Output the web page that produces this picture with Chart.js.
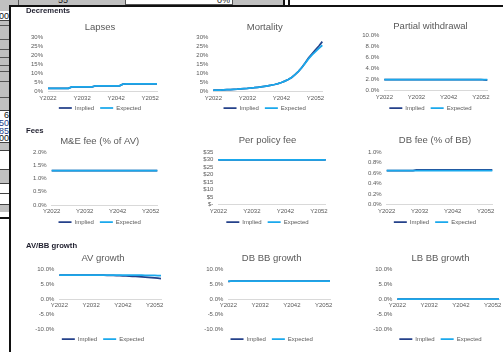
<!DOCTYPE html>
<html>
<head>
<meta charset="utf-8">
<script src="https://cdn.jsdelivr.net/npm/chart.js@4/dist/chart.umd.min.js"></script>
<style>
  html, body { margin: 0; padding: 0; width: 503px; height: 352px; overflow: hidden; background: #fff;
    font-family: "Liberation Sans", Arial, sans-serif; }
  .a { position: absolute; box-sizing: border-box; }
  .cell { position: absolute; font-size: 9px; line-height: 8px; text-align: right; white-space: nowrap; }
  .section { position: absolute; left: 26px; font-weight: bold; font-size: 7.7px; color: #1f1f2e; line-height: 9px; z-index: 5; }
  canvas { position: absolute; z-index: 4; }
</style>
</head>
<body>
<!-- worksheet behind the dashboard -->
<div class="a" style="left:0;top:0;width:283px;height:6px;background:#c0c0c0"></div>
<div class="a" style="left:18px;top:0;width:1px;height:6px;background:#555"></div>
<div class="a" style="left:125px;top:0;width:108px;height:5px;background:#fff;border:1px solid #555;border-top:none"></div>
<div class="cell" style="left:50px;top:-4px;width:18px;color:#222">55</div>
<div class="cell" style="left:200px;top:-4px;width:30px;color:#222">0%</div>
<div class="a" style="left:283px;top:0;width:2px;height:6px;background:#111"></div>
<div class="a" style="left:288px;top:0;width:2px;height:6px;background:#111"></div>

<div class="a" style="left:0;top:0;width:10px;height:150px;background:#c0c0c0"></div>
<div class="a" style="left:0;top:11px;width:10px;height:10px;background:#fff;border-bottom:1px solid #444"></div>
<div class="cell" style="left:-10px;top:12px;width:19px;color:#111">00</div>
<div class="a" style="left:0;top:25px;width:10px;height:1px;background:#555"></div>
<div class="a" style="left:0;top:39px;width:10px;height:1px;background:#555"></div>
<div class="a" style="left:0;top:49px;width:10px;height:1px;background:#555"></div>
<div class="a" style="left:0;top:57px;width:10px;height:1px;background:#555"></div>
<div class="a" style="left:0;top:65px;width:10px;height:1px;background:#555"></div>
<div class="a" style="left:0;top:71px;width:10px;height:1px;background:#555"></div>
<div class="a" style="left:0;top:81px;width:10px;height:1px;background:#555"></div>
<div class="a" style="left:0;top:97px;width:10px;height:1px;background:#555"></div>
<div class="a" style="left:0;top:110px;width:10px;height:33px;background:#fff;border-top:1px solid #444;border-bottom:1px solid #444"></div>
<div class="cell" style="left:-10px;top:111px;width:19px;color:#111">6</div>
<div class="cell" style="left:-10px;top:119px;width:19px;color:#1f3d8a">50</div>
<div class="cell" style="left:-10px;top:127px;width:19px;color:#1f3d8a">85</div>
<div class="cell" style="left:-10px;top:134px;width:19px;color:#111">00</div>
<div class="a" style="left:0;top:150px;width:10px;height:20px;background:#fff;border-top:1px solid #444;border-bottom:1px solid #444"></div>
<div class="a" style="left:0;top:170px;width:10px;height:13px;background:#c0c0c0"></div>
<div class="a" style="left:0;top:183px;width:10px;height:11px;background:#fff;border-top:1px solid #444;border-bottom:1px solid #444"></div>
<div class="a" style="left:0;top:194px;width:10px;height:11px;background:#fff;border-bottom:1px solid #444"></div>
<div class="a" style="left:0;top:205px;width:10px;height:7px;background:#c0c0c0"></div>
<div class="a" style="left:0;top:212px;width:10px;height:6px;background:#fff"></div>
<div class="a" style="left:0;top:217px;width:10px;height:2px;background:#111"></div>

<!-- dashboard frame -->
<div class="a" style="left:11px;top:7px;width:492px;height:345px;background:#fff"></div>
<div class="a" style="left:9px;top:5px;width:494px;height:2px;background:#111"></div>
<div class="a" style="left:9px;top:5px;width:2px;height:347px;background:#111"></div>

<div class="section" style="top:6px">Decrements</div>
<div class="section" style="top:126px">Fees</div>
<div class="section" style="top:241px">AV/BB growth</div>

<script>
// ---- data ----
const years = ['Y2022','Y2023','Y2024','Y2025','Y2026','Y2027','Y2028','Y2029','Y2030','Y2031',
  'Y2032','Y2033','Y2034','Y2035','Y2036','Y2037','Y2038','Y2039','Y2040','Y2041',
  'Y2042','Y2043','Y2044','Y2045','Y2046','Y2047','Y2048','Y2049','Y2050','Y2051',
  'Y2052','Y2053','Y2054'];

const lapsesImplied  = [1.9,1.9,1.9,1.9,1.9,1.9,1.9, 2.7,2.7,2.7,2.7,2.7,2.7,2.7,
  3.3,3.3,3.3,3.3,3.3,3.3,3.3,3.3, 4.2,4.4,4.4,4.4,4.4,4.4,4.4,4.4,4.4,4.4,4.4];
const lapsesExpected = [1.9,1.9,1.9,1.9,1.9,1.9,1.9, 2.7,2.7,2.7,2.7,2.7,2.7,2.7,
  3.3,3.3,3.3,3.3,3.3,3.3,3.3,3.3, 4.2,4.4,4.4,4.4,4.4,4.4,4.4,4.4,4.4,4.4,4.4];

const mortalityImplied  = [0.7,0.75,0.8,0.9,1.0,1.1,1.2,1.3,1.45,1.6,1.75,1.95,2.1,2.35,
  2.6,2.9,3.2,3.5,3.9,4.4,5.0,5.8,6.7,7.8,9.4,11.2,13.4,16.0,18.8,21.0,23.2,25.4,27.8];
const mortalityExpected = [0.7,0.75,0.8,0.9,1.0,1.1,1.2,1.3,1.45,1.6,1.75,1.95,2.1,2.35,
  2.6,2.9,3.2,3.5,3.9,4.4,5.0,5.8,6.7,7.8,9.4,11.2,13.4,15.8,18.3,20.4,22.2,24.1,25.8];

const withdrawalImplied  = [2.0,2.0,2.0,2.0,2.0,2.0,2.0,2.0,2.0,2.0,2.0,2.0,2.0,2.0,2.0,2.0,
  2.0,2.0,2.0,2.0,2.0,2.0,2.0,2.0,2.0,2.0,2.0,2.0,2.0,2.0,2.0,1.95,1.9];
const withdrawalExpected = [2.0,2.0,2.0,2.0,2.0,2.0,2.0,2.0,2.0,2.0,2.0,2.0,2.0,2.0,2.0,2.0,
  2.0,2.0,2.0,2.0,2.0,2.0,2.0,2.0,2.0,2.0,2.0,2.0,2.0,2.0,2.0,2.0,2.0];

const meFeeImplied  = [1.3,1.3,1.3,1.3,1.3,1.3,1.3,1.3,1.3,1.3,1.3,1.3,1.3,1.3,1.3,1.3,
  1.3,1.3,1.3,1.3,1.3,1.3,1.3,1.3,1.3,1.3,1.3,1.3,1.3,1.3,1.3,1.3,1.3];
const meFeeExpected = [1.3,1.3,1.3,1.3,1.3,1.3,1.3,1.3,1.3,1.3,1.3,1.3,1.3,1.3,1.3,1.3,
  1.3,1.3,1.3,1.3,1.3,1.3,1.3,1.3,1.3,1.3,1.3,1.3,1.3,1.3,1.3,1.3,1.3];

const policyFeeImplied  = [30,30,30,30,30,30,30,30,30,30,30,30,30,30,30,30,30,30,30,30,30,30,
  30,30,30,30,30,30,30,30,30,30,30];
const policyFeeExpected = [30,30,30,30,30,30,30,30,30,30,30,30,30,30,30,30,30,30,30,30,30,30,
  30,30,30,30,30,30,30,30,30,30,30];

const dbFeeImplied  = [0.65,0.65,0.65,0.65,0.65,0.65,0.65,0.65,0.65,0.66,0.66,0.66,0.66,0.66,
  0.66,0.66,0.66,0.66,0.66,0.66,0.66,0.66,0.66,0.66,0.66,0.66,0.66,0.66,0.66,0.66,0.66,0.66,0.66];
const dbFeeExpected = [0.65,0.65,0.65,0.65,0.65,0.65,0.65,0.65,0.65,0.65,0.65,0.65,0.65,0.65,
  0.65,0.65,0.65,0.65,0.65,0.65,0.65,0.65,0.65,0.65,0.65,0.65,0.65,0.65,0.65,0.65,0.65,0.65,0.65];

const avGrowthImplied  = [8.0,8.0,8.0,8.0,8.0,8.0,8.0,8.0,8.0,8.0,8.0,8.0,
  7.98,7.95,7.92,7.9,7.87,7.84,7.8,7.76,7.72,7.67,7.62,7.56,7.5,7.43,7.36,7.28,7.2,7.11,7.02,6.92,6.82];
const avGrowthExpected = [8.0,8.0,8.0,8.0,8.0,8.0,8.0,8.0,8.0,8.0,8.0,8.0,8.0,8.0,8.0,8.0,
  8.0,8.0,8.0,8.0,8.0,8.0,8.0, 7.98,7.96,7.94,7.92,7.9,7.88,7.86,7.84,7.82,7.8];

const dbBBGrowthImplied  = [5.8,6.0,6.0,6.0,6.0,6.0,6.0,6.0,6.0,6.0,6.0,6.0,6.0,6.0,6.0,6.0,
  6.0,6.0,6.0,6.0,6.0,6.0,6.0,6.0,6.0,6.0,6.0,6.0,6.0,6.0,6.0,6.0,6.0];
const dbBBGrowthExpected = [6.0,6.0,6.0,6.0,6.0,6.0,6.0,6.0,6.0,6.0,6.0,6.0,6.0,6.0,6.0,6.0,
  6.0,6.0,6.0,6.0,6.0,6.0,6.0,6.0,6.0,6.0,6.0,6.0,6.0,6.0,6.0,6.0,6.0];

const lbBBGrowthImplied  = [0,0,0,0,0,0,0,0,0,0,0,0,0,0,0,0,0,0,0,0,0,0,0,0,0,0,0,0,0,0,0,0,0];
const lbBBGrowthExpected = [0,0,0,0,0,0,0,0,0,0,0,0,0,0,0,0,0,0,0,0,0,0,0,0,0,0,0,0,0,0,0,0,0];

const seriesNames = ['Implied', 'Expected'];

// ---- styling ----
const IMPLIED_COLOR = '#24418a';
const EXPECTED_COLOR = '#1aa8ec';
const TEXT_COLOR = '#595959';
const AXIS_COLOR = '#d9d9d9';
const FONT = '"Liberation Sans", Arial, sans-serif';
const TITLE_SIZE = 9.5, TICK_SIZE = 6, LEGEND_SIZE = 6;

Chart.defaults.font.family = FONT;
Chart.defaults.color = TEXT_COLOR;

const pct0 = v => v + '%';
const pct1 = v => v.toFixed(1) + '%';
const dollars = v => (v === 0 ? '$-' : '$' + v);

// panel geometry: title centre, plot rectangle, legend row and canvas top
const panels = [
  { title: 'Lapses', implied: lapsesImplied, expected: lapsesExpected, min: 0, max: 30, step: 5, fmt: pct0,
    box: { tx: 100, ty: 27, l: 48, r: 157, t: 37.7, b: 91.7, ly: 108.3, top: 14 } },
  { title: 'Mortality', implied: mortalityImplied, expected: mortalityExpected, min: 0, max: 30, step: 5, fmt: pct0,
    box: { tx: 264.7, ty: 27, l: 213.3, r: 322.3, t: 37.7, b: 91.5, ly: 108.3, top: 14 } },
  { title: 'Partial withdrawal', implied: withdrawalImplied, expected: withdrawalExpected, min: 0, max: 10, step: 2, fmt: pct1,
    box: { tx: 430.5, ty: 26.7, l: 384.3, r: 487.3, t: 35.5, b: 90.5, ly: 108.3, top: 14 } },
  { title: 'M&E fee (% of AV)', implied: meFeeImplied, expected: meFeeExpected, min: 0, max: 2, step: 0.5, fmt: pct1,
    box: { tx: 99.7, ty: 141.7, l: 51.7, r: 157.3, t: 152.3, b: 205, ly: 222.3, top: 128 } },
  { title: 'Per policy fee', implied: policyFeeImplied, expected: policyFeeExpected, min: 0, max: 35, step: 5, fmt: dollars,
    box: { tx: 267.5, ty: 140.7, l: 218.3, r: 325.7, t: 152.3, b: 204.5, ly: 222.3, top: 128 } },
  { title: 'DB fee (% of BB)', implied: dbFeeImplied, expected: dbFeeExpected, min: 0, max: 1, step: 0.2, fmt: pct1,
    box: { tx: 435, ty: 140.5, l: 386.7, r: 492.3, t: 152.3, b: 204.3, ly: 222.3, top: 128 } },
  { title: 'AV growth', implied: avGrowthImplied, expected: avGrowthExpected, min: -10, max: 10, step: 5, fmt: pct1,
    box: { tx: 103, ty: 258.3, l: 59.3, r: 161, t: 269, b: 329, ly: 339.3, top: 245 } },
  { title: 'DB BB growth', implied: dbBBGrowthImplied, expected: dbBBGrowthExpected, min: -10, max: 10, step: 5, fmt: pct1,
    box: { tx: 271.7, ty: 258.3, l: 228.3, r: 330, t: 269, b: 329, ly: 339.3, top: 245 } },
  { title: 'LB BB growth', implied: lbBBGrowthImplied, expected: lbBBGrowthExpected, min: -10, max: 10, step: 5, fmt: pct1,
    box: { tx: 440.5, ty: 258.3, l: 397.3, r: 499, t: 269, b: 329, ly: 339.3, top: 245 } }
];

function buildPanel(p) {
  const b = p.box;
  const Y_AXIS_W = 26;         // room for the value labels
  const EDGE = 2;              // canvas margin around the padded area
  const TITLE_LH = TITLE_SIZE * 1.2;
  const LEGEND_PAD = 6;

  // title and legend are centred on the padded content area, which is
  // widened on the right by a blank axis so the plot sits off-centre
  const contentL = b.l - Y_AXIS_W;
  const contentR = 2 * b.tx - contentL;
  const rightGap = contentR - b.r;
  const left = Math.floor(contentL - EDGE);
  const right = Math.ceil(contentR + EDGE);
  const top = b.top;
  const bottom = Math.round(b.ly + 13);
  const W = right - left, H = bottom - top;

  const canvas = document.createElement('canvas');
  canvas.width = W; canvas.height = H;
  canvas.style.left = left + 'px'; canvas.style.top = top + 'px';
  canvas.style.width = W + 'px'; canvas.style.height = H + 'px';
  document.body.appendChild(canvas);

  const padTop = b.ty - TITLE_LH / 2 - top;
  const padBottom = b.t - top - padTop - TITLE_LH;
  // space between the plot floor and the legend row
  const floorGap = Math.max(0, (bottom - (16 + LEGEND_PAD)) - b.b);

  const noGrid = { display: false, drawTicks: false, tickLength: 0 };

  new Chart(canvas, {
    type: 'line',
    data: {
      labels: years,
      datasets: [
        { label: seriesNames[0], data: p.implied, xAxisID: 'x', yAxisID: 'y',
          borderColor: IMPLIED_COLOR, backgroundColor: IMPLIED_COLOR,
          pointBorderColor: IMPLIED_COLOR, pointBorderWidth: 1.75, borderWidth: 1.75, pointRadius: 0, tension: 0, order: 1 },
        { label: seriesNames[1], data: p.expected, xAxisID: 'x', yAxisID: 'y',
          borderColor: EXPECTED_COLOR, backgroundColor: EXPECTED_COLOR,
          pointBorderColor: EXPECTED_COLOR, pointBorderWidth: 1.75, borderWidth: 1.75, pointRadius: 0, tension: 0, order: 0 }
      ]
    },
    options: {
      responsive: false, maintainAspectRatio: false, animation: false,
      layout: { padding: { left: contentL - left, right: right - contentR, top: 0, bottom: 0 } },
      plugins: {
        tooltip: { enabled: false },
        title: {
          display: true, text: p.title, color: TEXT_COLOR,
          font: { size: TITLE_SIZE, weight: 'normal', lineHeight: 1.2 },
          padding: { top: padTop, bottom: padBottom }
        },
        legend: {
          display: true, position: 'bottom',
          labels: {
            usePointStyle: true, pointStyle: 'line', pointStyleWidth: 13,
            padding: LEGEND_PAD, color: TEXT_COLOR, font: { size: LEGEND_SIZE },
            sort: (a, c) => a.datasetIndex - c.datasetIndex
          }
        }
      },
      scales: {
        x: {
          type: 'category',
          offset: false,
          position: { y: 0 },
          grid: noGrid,
          border: { display: true, color: AXIS_COLOR, width: 1 },
          ticks: {
            autoSkip: false, maxRotation: 0, minRotation: 0, padding: 3,
            font: { size: TICK_SIZE }, color: TEXT_COLOR,
            callback: function (v, i) { return i % 10 === 0 ? this.getLabelForValue(v) : ''; }
          }
        },
        xFloor: {
          type: 'category', position: 'bottom', display: true,
          grid: noGrid, border: { display: false }, ticks: { display: false },
          afterFit: s => { s.height = floorGap; }
        },
        y: {
          min: p.min, max: p.max,
          grid: noGrid,
          border: { display: false },
          ticks: { stepSize: p.step, autoSkip: false, padding: 5, font: { size: TICK_SIZE }, color: TEXT_COLOR,
                   callback: v => p.fmt(v) },
          afterFit: s => { s.width = Y_AXIS_W; }
        },
        yRight: {
          type: 'linear', position: 'right', display: true,
          grid: noGrid, border: { display: false }, ticks: { display: false },
          afterFit: s => { s.width = rightGap; }
        }
      }
    }
  });
}

panels.forEach(buildPanel);
</script>
</body>
</html>
